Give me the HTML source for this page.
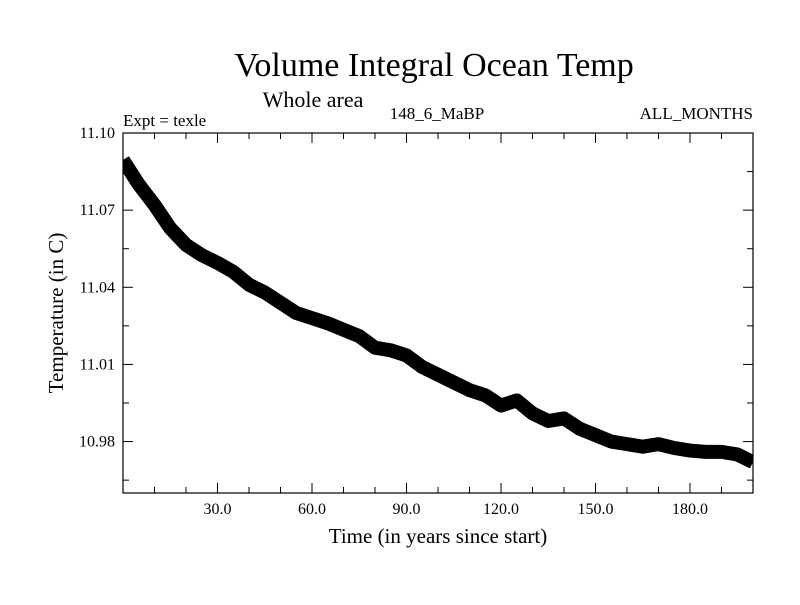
<!DOCTYPE html>
<html><head><meta charset="utf-8"><style>
body{margin:0;background:#fff}
svg text{font-family:"Liberation Serif",serif;fill:#000}
</style></head><body>
<svg id="chart" width="800" height="600" viewBox="0 0 800 600" xmlns="http://www.w3.org/2000/svg">
<defs><clipPath id="plotclip"><rect x="123" y="133" width="630" height="360"/></clipPath></defs>
<text x="434" y="76" font-size="34" text-anchor="middle">Volume Integral Ocean Temp</text>
<text x="313" y="107" font-size="22" text-anchor="middle">Whole area</text>
<text x="123" y="126" font-size="17">Expt = texle</text>
<text x="437" y="119" font-size="17" text-anchor="middle">148_6_MaBP</text>
<text x="753" y="119" font-size="17" text-anchor="end">ALL_MONTHS</text>
<text x="438" y="543" font-size="21" text-anchor="middle">Time (in years since start)</text>
<text x="0" y="0" font-size="21" text-anchor="middle" transform="translate(63,313) rotate(-90)">Temperature (in C)</text>
<g id="ticks"></g>
<g id="series" clip-path="url(#plotclip)"></g>
<rect x="123" y="133" width="630" height="360" fill="none" stroke="#000" stroke-width="1.2"/>
</svg>
<script>
const years=[0,5,10,15,20,25,30,35,40,45,50,55,60,65,70,75,80,85,90,95,100,105,110,115,120,125,130,135,140,145,150,155,160,165,170,175,180,185,190,195,200];
const temps=[11.0895,11.080,11.072,11.063,11.0565,11.0525,11.0495,11.046,11.041,11.038,11.034,11.030,11.028,11.026,11.0235,11.021,11.0165,11.0155,11.0135,11.009,11.006,11.003,11.000,10.998,10.994,10.996,10.991,10.988,10.989,10.985,10.9825,10.980,10.979,10.978,10.979,10.9775,10.9765,10.976,10.976,10.975,10.972];
const xTicks=[30,60,90,120,150,180];
const xTickLabels=["30.0","60.0","90.0","120.0","150.0","180.0"];
const yTicks=[11.10,11.07,11.04,11.01,10.98];
const yTickLabels=["11.10","11.07","11.04","11.01","10.98"];
const X0=123,X1=753,Y0=133,Y1=493,XMIN=0,XMAX=200,YMIN=10.96,YMAX=11.10;
const sx=v=>X0+(v-XMIN)/(XMAX-XMIN)*(X1-X0);
const sy=v=>Y0+(YMAX-v)/(YMAX-YMIN)*(Y1-Y0);
const NS="http://www.w3.org/2000/svg";
const tg=document.getElementById('ticks'),sg=document.getElementById('series');
function ln(x1,y1,x2,y2,name){const l=document.createElementNS(NS,'line');
l.setAttribute('x1',x1);l.setAttribute('y1',y1);l.setAttribute('x2',x2);l.setAttribute('y2',y2);
l.setAttribute('stroke','#000');l.setAttribute('stroke-width','1');


tg.appendChild(l);}
for(let v=10;v<200;v+=10){const x=sx(v),L=(v%30===0)?10:6;ln(x,Y1,x,Y1-L,'x-tick');ln(x,Y0,x,Y0+L,'x-tick');}
for(let i=1;i<=9;i++){const v=YMAX-i*0.015;if(v<YMIN)break;const y=sy(v);const L=(i%2===0)?10:6;ln(X0,y,X0+L,y,'y-tick');ln(X1,y,X1-L,y,'y-tick');}
xTicks.forEach((v,i)=>{const t=document.createElementNS(NS,'text');t.setAttribute('x',sx(v));t.setAttribute('y',Y1+21);t.setAttribute('font-size','16');t.setAttribute('text-anchor','middle');t.textContent=xTickLabels[i];


tg.appendChild(t);});
yTicks.forEach((v,i)=>{const t=document.createElementNS(NS,'text');t.setAttribute('x',X0-8);t.setAttribute('y',sy(v)+5);t.setAttribute('font-size','16');t.setAttribute('text-anchor','end');t.textContent=yTickLabels[i];


tg.appendChild(t);});
const p=document.createElementNS(NS,'polyline');
p.setAttribute('points',years.map((y,i)=>sx(y)+','+sy(temps[i])).join(' '));
p.setAttribute('fill','none');p.setAttribute('stroke','#000');p.setAttribute('stroke-width','14');p.setAttribute('stroke-linejoin','round');


sg.appendChild(p);
</script>
</body></html>
